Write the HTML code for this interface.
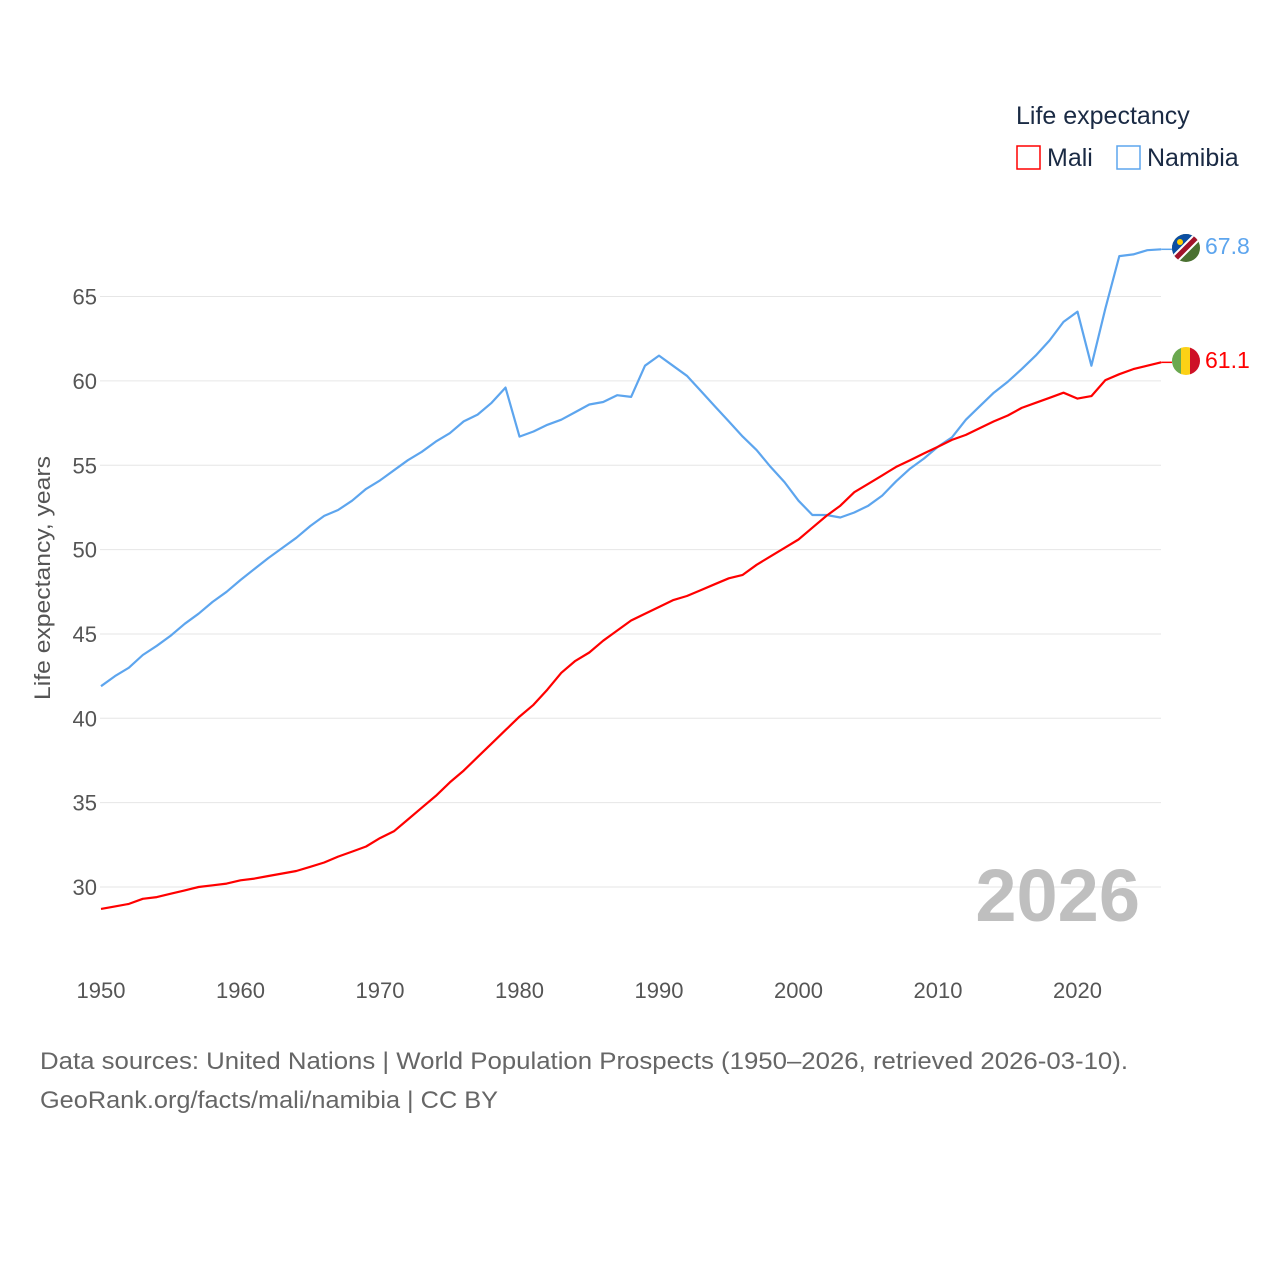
<!DOCTYPE html>
<html><head><meta charset="utf-8"><style>
html,body{margin:0;padding:0;background:#fff;}
svg{display:block;font-family:"Liberation Sans",sans-serif;}
</style></head><body>
<svg id="c" width="1280" height="1280" viewBox="0 0 1280 1280">
<defs>
<clipPath id="fm"><circle cx="1186" cy="361" r="14"/></clipPath>
<clipPath id="fn"><circle cx="1186" cy="248" r="14"/></clipPath>
</defs>
<g id="grid"></g>
<g id="yt"></g>
<g id="xt"></g>
<text x="50" y="578" transform="rotate(-90 50 578)" text-anchor="middle" font-size="22" fill="#555" textLength="244" lengthAdjust="spacingAndGlyphs">Life expectancy, years</text>
<text x="1140" y="921" text-anchor="end" font-size="74" font-weight="bold" fill="#bfbfbf">2026</text>
<g id="lines"></g>
<g clip-path="url(#fm)">
<rect x="1172" y="347" width="10" height="28" fill="#6aa84f"/><rect x="1181" y="347" width="10" height="28" fill="#fcd116"/><rect x="1190" y="347" width="10" height="28" fill="#ce1126"/>
</g>
<g clip-path="url(#fn)">
<rect x="1170" y="232" width="32" height="32" fill="#4a7030"/>
<polygon points="1170,232 1202,232 1170,264" fill="#0b4ea2"/>
<line x1="1202" y1="232" x2="1170" y2="264" stroke="#fff" stroke-width="9"/>
<line x1="1202" y1="232" x2="1170" y2="264" stroke="#a2122a" stroke-width="5"/>
<circle cx="1180" cy="242" r="3" fill="#ffce00"/>
</g>
<text x="1205" y="254" font-size="23" fill="#5da5ee">67.8</text>
<text x="1205" y="368" font-size="23" fill="#f00">61.1</text>
<text x="1016" y="124" font-size="25" fill="#1a2a44">Life expectancy</text>
<g>
<rect x="1017" y="146" width="23" height="23" fill="none" stroke="#f00" stroke-width="1.5"/>
<text x="1047" y="166" font-size="25" fill="#1a2a44">Mali</text></g>
<g>
<rect x="1117" y="146" width="23" height="23" fill="none" stroke="#5da5ee" stroke-width="1.5"/>
<text x="1147" y="166" font-size="25" fill="#1a2a44">Namibia</text></g>
<text x="40" y="1069" font-size="24" fill="#666" textLength="1088" lengthAdjust="spacingAndGlyphs">Data sources: United Nations | World Population Prospects (1950–2026, retrieved 2026-03-10).</text>
<text x="40" y="1108" font-size="24" fill="#666" textLength="458" lengthAdjust="spacingAndGlyphs">GeoRank.org/facts/mali/namibia | CC BY</text>
</svg>
<script>
const yearStart = 1950;
const maliValues = [28.7,28.85,29.0,29.3,29.4,29.6,29.8,30.0,30.1,30.2,30.4,30.5,30.65,30.8,30.95,31.2,31.45,31.8,32.1,32.4,32.9,33.3,34.0,34.7,35.4,36.2,36.9,37.7,38.5,39.3,40.1,40.8,41.7,42.7,43.4,43.9,44.6,45.2,45.8,46.2,46.6,47.0,47.25,47.6,47.95,48.3,48.5,49.1,49.6,50.1,50.6,51.3,52.0,52.6,53.4,53.9,54.4,54.9,55.3,55.7,56.1,56.5,56.8,57.2,57.6,57.95,58.4,58.7,59.0,59.3,58.95,59.1,60.05,60.4,60.7,60.9,61.1];
const namibiaValues = [41.9,42.5,43.0,43.75,44.3,44.9,45.6,46.2,46.9,47.5,48.2,48.85,49.5,50.1,50.7,51.4,52.0,52.35,52.9,53.6,54.1,54.7,55.3,55.8,56.4,56.9,57.6,58.0,58.7,59.6,56.7,57.0,57.4,57.7,58.15,58.6,58.75,59.15,59.05,60.9,61.5,60.9,60.3,59.4,58.5,57.6,56.7,55.9,54.9,54.0,52.9,52.05,52.05,51.9,52.2,52.6,53.2,54.05,54.8,55.4,56.1,56.65,57.7,58.5,59.3,59.95,60.7,61.5,62.4,63.5,64.1,60.9,64.3,67.4,67.5,67.75,67.8];
const yTicks = [30,35,40,45,50,55,60,65];
const xTicks = [1950,1960,1970,1980,1990,2000,2010,2020];
const NS='http://www.w3.org/2000/svg';
const xs = y => 101 + (y-1950)*13.95;
const ys = v => 887 - (v-30)*16.87;
function mk(tag, attrs, parent){const e=document.createElementNS(NS,tag);for(const k in attrs)e.setAttribute(k,attrs[k]);parent.appendChild(e);return e;}
const grid=document.getElementById('grid'), yt=document.getElementById('yt'), xt=document.getElementById('xt'), lines=document.getElementById('lines');
yTicks.forEach(v=>{
  const l=mk('line',{x1:100,x2:1161,y1:ys(v),y2:ys(v),stroke:'#e6e6e6','stroke-width':1},grid);
  
  
  const t=mk('text',{x:97,y:ys(v)+8,'text-anchor':'end','font-size':22,fill:'#555'},yt);
  t.textContent=v;
  
  
});
xTicks.forEach(y=>{
  const t=mk('text',{x:xs(y),y:998,'text-anchor':'middle','font-size':22,fill:'#555'},xt);
  t.textContent=y;
  
  
});
function series(vals,color,name){
  const d=vals.map((v,i)=>(i?'L':'M')+xs(yearStart+i).toFixed(1)+','+ys(v).toFixed(1)).join(' ');
  const p=mk('path',{d:d,fill:'none',stroke:color,'stroke-width':2.2,'stroke-linejoin':'round'},lines);
  
  
  const last=vals.length-1;
  mk('line',{x1:xs(yearStart+last),x2:1172,y1:ys(vals[last]),y2:ys(vals[last]),stroke:color,'stroke-width':1.5},lines);
}
series(namibiaValues,'#5da5ee','namibia-line');
series(maliValues,'#f00','mali-line');
</script>
</body></html>
